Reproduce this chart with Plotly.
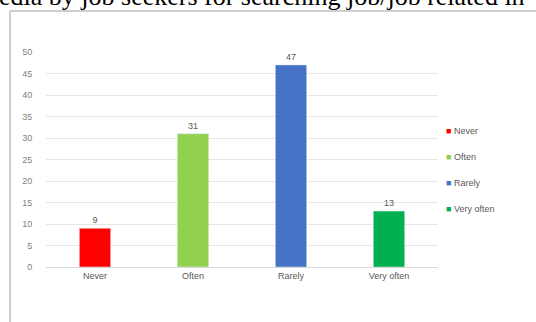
import plotly.graph_objects as go

categories = ["Never", "Often", "Rarely", "Very often"]
values = [9, 31, 47, 13]
colors = ["#ff0000", "#92d050", "#4472c4", "#00b050"]
y_ticks = [0, 5, 10, 15, 20, 25, 30, 35, 40, 45, 50]
title_text = "edia by job seekers for searching job/job related in"

W, H = 536, 322
L, R, T, B = 46, 98, 52, 55
pw, ph = W - L - R, H - T - B

def px(x):
    return (x - L) / pw

def py(y):
    return (H - B - y) / ph

fig = go.Figure()
for c, v, col in zip(categories, values, colors):
    fig.add_trace(go.Bar(
        x=[c], y=[v], name=c, marker_color=col,
        text=[str(v)], textposition="outside",
        textfont=dict(size=9, color="#595959"),
        cliponaxis=False, width=0.32, showlegend=False,
    ))

# legend entries: small coloured square right before the label
for i, (c, col) in enumerate(zip(categories, colors)):
    fig.add_trace(go.Scatter(
        x=[None], y=[None], mode="markers",
        marker=dict(size=1, color="rgba(0,0,0,0)"),
        name='<span style="color:%s">■</span> %s' % (col, c),
        legendgroup="g%d" % i, showlegend=True,
    ))

fig.update_layout(
    width=W, height=H,
    margin=dict(l=L, r=R, t=T, b=B, autoexpand=False),
    paper_bgcolor="white", plot_bgcolor="white",
    barmode="overlay",
    font=dict(family="Liberation Sans, Arial", size=9, color="#595959"),
    showlegend=True,
    legend=dict(x=px(406), y=py(116), xanchor="left", yanchor="top",
                font=dict(size=9, color="#595959"),
                tracegroupgap=7, bgcolor="rgba(0,0,0,0)"),
    xaxis=dict(categoryorder="array", categoryarray=categories,
               showline=True, linecolor="#d9d9d9", ticks="", automargin=False,
               tickfont=dict(size=9, color="#595959")),
    yaxis=dict(range=[0, 50], tickvals=y_ticks, showgrid=True, automargin=False,
               gridcolor="#e6e6e6", zeroline=False,
               ticks="outside", ticklen=11, tickcolor="rgba(0,0,0,0)",
               tickfont=dict(size=9, color="#7f7f7f")),
)

# chart-area frame (top and left edges visible in the crop)
fig.add_shape(type="line", xref="paper", yref="paper",
              x0=px(10), x1=px(536), y0=py(11), y1=py(11),
              line=dict(color="#cfcfcf", width=2))
fig.add_shape(type="line", xref="paper", yref="paper",
              x0=px(10), x1=px(10), y0=py(11), y1=py(322),
              line=dict(color="#cfcfcf", width=2))

fig.add_annotation(text=title_text, xref="paper", yref="paper",
                   x=px(-3), y=py(13), xanchor="left", yanchor="bottom",
                   showarrow=False,
                   font=dict(family="Liberation Serif, Times New Roman", size=26, color="#000000"))

fig.write_html("out.html", config={"displayModeBar": False},
               post_script="document.body.style.margin='0';document.body.style.overflow='hidden';")
